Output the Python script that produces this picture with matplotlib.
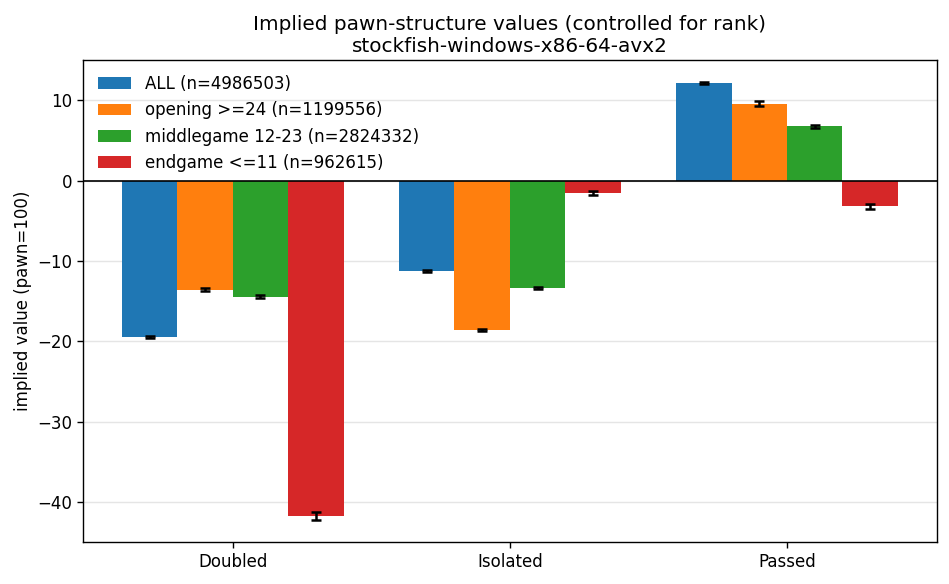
import matplotlib
matplotlib.use("Agg")
import matplotlib.pyplot as plt
import numpy as np

categories = ["Doubled", "Isolated", "Passed"]
series_labels = ["ALL (n=4986503)", "opening >=24 (n=1199556)",
                 "middlegame 12-23 (n=2824332)", "endgame <=11 (n=962615)"]
values_all = [-19.45, -11.3, 12.2]
values_opening = [-13.6, -18.6, 9.6]
values_middle = [-14.45, -13.35, 6.75]
values_endgame = [-41.8, -1.55, -3.2]
err_all = [0.15, 0.12, 0.12]
err_opening = [0.2, 0.15, 0.35]
err_middle = [0.2, 0.1, 0.15]
err_endgame = [0.5, 0.2, 0.3]

colors = ["#1f77b4", "#ff7f0e", "#2ca02c", "#d62728"]
vals = [values_all, values_opening, values_middle, values_endgame]
errs = [err_all, err_opening, err_middle, err_endgame]

fig, ax = plt.subplots(figsize=(9.49, 5.84), dpi=100)
x = np.arange(len(categories))
w = 0.2
for i, (v, e, c, lab) in enumerate(zip(vals, errs, colors, series_labels)):
    ax.bar(x + (i - 1.5) * w, v, w, yerr=e, color=c, label=lab,
           capsize=3.6, error_kw=dict(ecolor="black", elinewidth=1.8, capthick=1.8), zorder=2)
ax.axhline(0, color="black", linewidth=1.2, zorder=3)
ax.grid(axis="y", color="#e5e5e5", linewidth=1.0, zorder=0)
ax.set_axisbelow(True)
ax.set_xticks(x)
ax.set_xticklabels(categories)
ax.tick_params(labelsize=12, length=4.2, width=1.0)
ax.set_ylim(-45, 15)
ax.set_ylabel("implied value (pawn=100)", fontsize=12)
ax.set_title("Implied pawn-structure values (controlled for rank)\nstockfish-windows-x86-64-avx2", fontsize=14.4)
ax.legend(loc="upper left", frameon=False, fontsize=12)
for s in ax.spines.values():
    s.set_linewidth(1.0)
fig.subplots_adjust(left=0.0875, right=0.987, top=0.897, bottom=0.072)
fig.savefig("out.png", dpi=100)
